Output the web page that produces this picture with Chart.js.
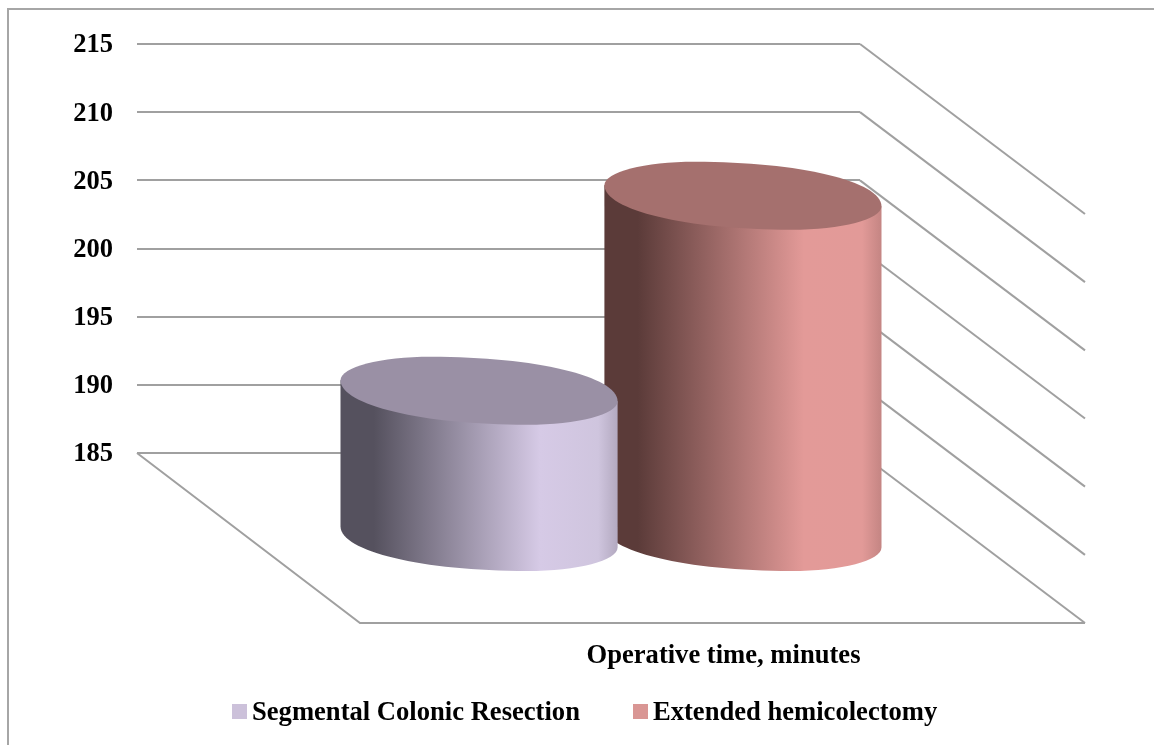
<!DOCTYPE html>
<html>
<head>
<meta charset="utf-8">
<title>Operative time</title>
<script src="https://cdn.jsdelivr.net/npm/chart.js@4"></script>
<style>
    html, body { margin: 0; padding: 0; background: #fff; overflow: hidden; }
    #wrap { position: relative; width: 1154px; height: 745px; }
    #frame { position: absolute; left: 7px; top: 8px; right: 0; bottom: 0; border-left: 2px solid #a6a6a6; border-top: 2px solid #a6a6a6; }
    #chart { position: absolute; left: 0; top: 0; }
    #legend { position: absolute; left: 232px; top: 696px; display: flex; font: bold 26.6px "Liberation Serif", serif; color: #000; white-space: nowrap; }
    #legend .item { display: flex; align-items: center; margin-right: 53px; }
    #legend .box { width: 15px; height: 15px; margin-right: 5px; }
</style>
</head>
<body>
<div id="wrap">
    <div id="frame"></div>
    <canvas id="chart" width="1154" height="745"></canvas>
    <div id="legend"></div>
</div>
<script>
const categories = ['Operative time, minutes'];
const seriesNames = ['Segmental Colonic Resection', 'Extended hemicolectomy'];
const segmentalValues = [195.8];
const extendedValues = [210.1];
const tickLabels = [185, 190, 195, 200, 205, 210, 215];

// colours for each series: legend swatch, top face, side gradient
const swatchColors = ['#ccc1da', '#d99694'];
const topColors = ['#9a90a5', '#a5706e'];
const sideStops = [
    ['#55515e', '#d6cae6', '#cfc5de', '#b3a9c0'],
    ['#5b3b39', '#e39a98', '#e29a98', '#c48583']
];

// how far the floor and side walls run towards the viewer
const DEPTH_X = 225;
const DEPTH_Y = 170;
const GRID_COLOR = '#a0a0a0';

// Shape of the cylinder caps: a leaning oval
const CAP_HALF_H = 34;      // half height of the oval
const CAP_SIDE_DY = 10.5;   // left end sits this much higher, right end this much lower
const CAP_APEX_DX = 48;     // top point sits this much left of centre, bottom point right
const CAP_K = 0.56;         // how full the curves are

// lower half of the cap, right end -> bottom point -> left end
function capLower(ctx, cx, cy, w) {
    const h = CAP_HALF_H, s = CAP_SIDE_DY, d = CAP_APEX_DX, k = CAP_K;
    ctx.bezierCurveTo(cx + w, cy + s + (h - s) * k, cx + d + (w - d) * k, cy + h, cx + d, cy + h);
    ctx.bezierCurveTo(cx + d - (w + d) * k, cy + h, cx - w, cy - s + (h + s) * k, cx - w, cy - s);
}

// upper half of the cap, left end -> top point -> right end
function capUpper(ctx, cx, cy, w) {
    const h = CAP_HALF_H, s = CAP_SIDE_DY, d = CAP_APEX_DX, k = CAP_K;
    ctx.bezierCurveTo(cx - w, cy - s - (h - s) * k, cx - d - (w - d) * k, cy - h, cx - d, cy - h);
    ctx.bezierCurveTo(cx - d + (w + d) * k, cy - h, cx + w, cy + s - (h + s) * k, cx + w, cy + s);
}

function drawCylinder(ctx, bar, index) {
    const cx = bar.x + DEPTH_X / 2;
    const topY = bar.y + DEPTH_Y / 2;
    const baseY = bar.base + DEPTH_Y / 2;
    const halfW = bar.width / 2;

    const grad = ctx.createLinearGradient(cx - halfW, 0, cx + halfW, 0);
    const stops = sideStops[index];
    grad.addColorStop(0, stops[0]);
    grad.addColorStop(0.12, stops[0]);
    grad.addColorStop(0.72, stops[1]);
    grad.addColorStop(0.93, stops[2]);
    grad.addColorStop(1, stops[3]);

    ctx.save();
    ctx.beginPath();
    ctx.moveTo(cx + halfW, topY + CAP_SIDE_DY);
    ctx.lineTo(cx + halfW, baseY + CAP_SIDE_DY);
    capLower(ctx, cx, baseY, halfW);
    ctx.lineTo(cx - halfW, topY - CAP_SIDE_DY);
    ctx.closePath();
    ctx.fillStyle = grad;
    ctx.fill();

    ctx.beginPath();
    ctx.moveTo(cx + halfW, topY + CAP_SIDE_DY);
    capLower(ctx, cx, topY, halfW);
    capUpper(ctx, cx, topY, halfW);
    ctx.closePath();
    ctx.fillStyle = topColors[index];
    ctx.fill();
    ctx.restore();
}

const cylinderPlugin = {
    id: 'cylinders',
    // side walls and floor go behind the cylinders
    beforeDatasetsDraw(chart) {
        const { ctx, chartArea, scales } = chart;
        ctx.save();
        ctx.strokeStyle = GRID_COLOR;
        ctx.lineWidth = 2;
        tickLabels.forEach(v => {
            const y = scales.y.getPixelForValue(v);
            ctx.beginPath();
            ctx.moveTo(chartArea.right, y);
            ctx.lineTo(chartArea.right + DEPTH_X, y + DEPTH_Y);
            ctx.stroke();
        });
        ctx.beginPath();
        ctx.moveTo(chartArea.left, chartArea.bottom);
        ctx.lineTo(chartArea.left + DEPTH_X - 2, chartArea.bottom + DEPTH_Y);
        ctx.lineTo(chartArea.right + DEPTH_X, chartArea.bottom + DEPTH_Y);
        ctx.stroke();
        ctx.restore();
    },
    // the flat bars are replaced by cylinders
    beforeDatasetDraw() {
        return false;
    },
    afterDatasetsDraw(chart) {
        // second series first, the first cylinder overlaps it
        [1, 0].forEach(i => {
            drawCylinder(chart.ctx, chart.getDatasetMeta(i).data[0], i);
        });
    }
};

new Chart(document.getElementById('chart'), {
    type: 'bar',
    data: {
        labels: categories,
        datasets: [
            { label: seriesNames[0], data: segmentalValues, backgroundColor: swatchColors[0], base: tickLabels[0] },
            { label: seriesNames[1], data: extendedValues, backgroundColor: swatchColors[1], base: tickLabels[0] }
        ]
    },
    options: {
        responsive: false,
        animation: false,
        categoryPercentage: 0.73,
        barPercentage: 1.05,
        layout: { padding: { top: 44, right: 294 } },
        plugins: {
            legend: { display: false },
            tooltip: { enabled: false }
        },
        scales: {
            x: {
                grid: { display: false },
                border: { display: false },
                ticks: {
                    color: '#000',
                    padding: 179,
                    labelOffset: 225,
                    maxRotation: 0,
                    font: { family: '"Liberation Serif", serif', weight: 'bold', size: 26.6 }
                },
                afterFit(scale) { scale.height = 292; }
            },
            y: {
                min: tickLabels[0],
                max: tickLabels[tickLabels.length - 1],
                grid: { color: GRID_COLOR, lineWidth: 2, drawTicks: false },
                border: { display: false },
                ticks: {
                    stepSize: 5,
                    color: '#000',
                    padding: 24,
                    labelOffset: 1.5,
                    font: { family: '"Liberation Serif", serif', weight: 'bold', size: 26.5 }
                },
                afterFit(scale) { scale.width = 137; }
            }
        }
    },
    plugins: [cylinderPlugin]
});

// Legend below the chart
const legendEl = document.getElementById('legend');
seriesNames.forEach((name, i) => {
    const item = document.createElement('div');
    item.className = 'item';
    item.innerHTML = `<span class="box" style="background:${swatchColors[i]}"></span><span>${name}</span>`;
    legendEl.appendChild(item);
});
</script>
</body>
</html>
